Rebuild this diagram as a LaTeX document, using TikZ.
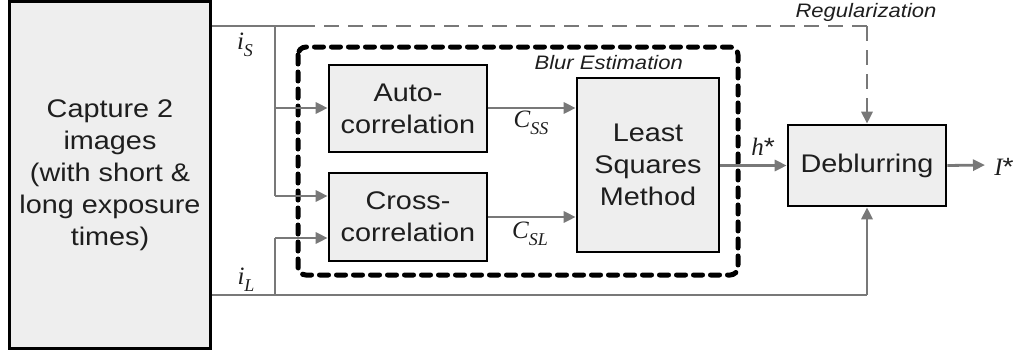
\documentclass[tikz,border=0pt]{standalone}
\usepackage{fontspec}
\setmainfont{Liberation Sans}[FakeStretch=1.13]
\newfontfamily\varfont{Liberation Serif}
\usetikzlibrary{arrows.meta}
\definecolor{boxfill}{RGB}{238,238,238}
\definecolor{wire}{RGB}{120,120,120}
\definecolor{ink}{RGB}{30,30,30}
\newcommand{\var}[2]{{\varfont\itshape #1}\raisebox{-0.28em}{\fontsize{18}{18}\selectfont\varfont\itshape #2}}
\tikzset{
  x=1pt, y=-1pt,
  block/.style={draw=black, line width=2.6pt, fill=boxfill, inner sep=0pt,
    align=center, text=ink, font=\fontsize{25.5}{32}\selectfont},
  wireline/.style={draw=wire, line width=2.8pt},
  flow/.style={wireline, -{Triangle[length=12pt,width=11pt]}},
  lbl/.style={inner sep=0pt, text=ink, font=\fontsize{25}{25}\selectfont},
  note/.style={inner sep=0pt, text=ink, font=\fontsize{19.5}{20}\selectfont\itshape},
}
\begin{document}
\begin{tikzpicture}
\useasboundingbox (0,0) rectangle (1020,356);

% blur estimation group outline
\draw[line width=5pt, dash pattern=on 9pt off 8pt, line cap=round, rounded corners=8pt]
  (298,47) rectangle (738,275);
\node[note, anchor=east] (blurlbl) at (683,63) {Blur Estimation};

% processing blocks
\node[block, minimum width=201pt, minimum height=347pt] (cap) at (110,175)
  {Capture 2\\images\\(with short \&\\long exposure\\times)};
\node[block, minimum width=158pt, minimum height=87pt] (auto) at (408,108.5)
  {Auto-\\correlation};
\node[block, minimum width=158pt, minimum height=88pt] (cross) at (408,217)
  {Cross-\\correlation};
\node[block, minimum width=142pt, minimum height=174pt] (lsm) at (648,165)
  {Least\\Squares\\Method};
\node[block, minimum width=158pt, minimum height=81pt] (deb) at (867,165.5)
  {Deblurring};

% junctions and bends
\coordinate (sOut) at (cap.east |- 0,26);
\coordinate (lOut) at (cap.east |- 0,295);
\coordinate (sJ) at (275,26);
\coordinate (lJ) at (275,295);
\coordinate (sEnd) at (300,26);
\coordinate (regC) at (deb.north |- 0,26);
\coordinate (lC) at (deb.south |- 0,295);
\coordinate (hEnd) at (985,165);

% short-exposure image feed
\draw[wireline] (sOut) -- (sEnd);
\draw[wireline] (sJ) -- (275,196);
\draw[flow] (275,108) -- (auto.west |- 0,108);
\draw[flow] (275,196) -- (cross.west |- 0,196);
\draw[wireline, dash pattern=on 15pt off 9pt] (sEnd) -- (regC);
\draw[flow, dash pattern=on 15pt off 9pt] (regC) -- (deb.north);

% long-exposure image feed
\draw[wireline] (lOut) -- (lC);
\draw[flow] (lC) -- (deb.south);
\draw[wireline] (lJ) -- (275,238);
\draw[flow] (275,238) -- (cross.west |- 0,238);

% estimation and output
\draw[flow] (auto.east |- 0,108) -- (lsm.west |- 0,108);
\draw[flow] (cross.east |- 0,217) -- (lsm.west |- 0,217);
\draw[flow] (lsm.east |- deb.west) -- (deb.west);
\draw[flow] (deb.east) -- (hEnd);

% signal labels
\node[lbl] (iS) at (245,45) {\var{i}{S}};
\node[lbl] (iL) at (246,280) {\var{i}{L}};
\node[lbl] (css) at (531,123) {\var{C}{SS}};
\node[lbl] (csl) at (530,234) {\var{C}{SL}};
\node[lbl] (hs) at (763,147) {{\varfont\itshape h}*};
\node[lbl] (Is) at (1004,167) {{\varfont\itshape I}*};
\node[note] (reg) at (866,12) {Regularization};
\end{tikzpicture}
\end{document}
